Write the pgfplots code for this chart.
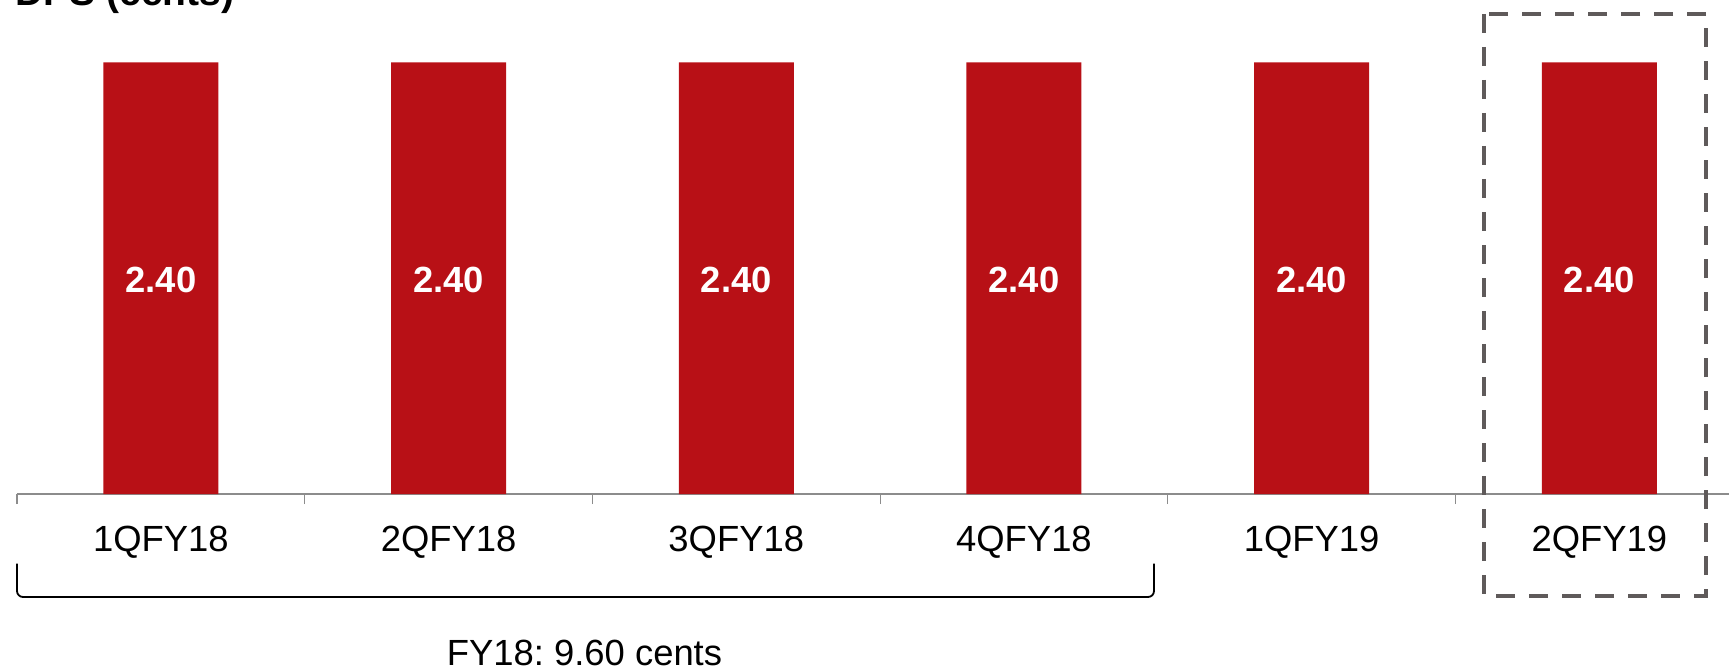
\documentclass[border=0pt]{standalone}
\usepackage{pgfplots}
\pgfplotsset{compat=1.18}
\usepackage{fontspec}
\setmainfont{Liberation Sans}
\frenchspacing
\definecolor{barred}{RGB}{184,16,22}
\definecolor{boxgray}{RGB}{95,90,90}
\definecolor{axgray}{RGB}{140,140,140}
\begin{document}
\begin{tikzpicture}
\begin{axis}[
  scale only axis,
  width=863.1pt, height=215.75pt,
  xmin=-0.5, xmax=5.5, ymin=0, ymax=2.4,
  clip=false,
  axis x line*=bottom,
  axis y line=none,
  x axis line style={axgray, line width=0.7pt},
  xtick={0,1,2,3,4,5},
  xticklabels={1QFY18,2QFY18,3QFY18,4QFY18,1QFY19,2QFY19},
  minor xtick={-0.5,0.5,1.5,2.5,3.5,4.5,5.5},
  major tick length=0pt,
  minor tick length=5pt,
  tick align=outside,
  xtick pos=bottom,
  minor tick style={axgray, line width=0.6pt},
  xticklabel style={font=\fontsize{18.2}{21}\selectfont, anchor=base, inner sep=0pt, yshift=-28.5pt},
  ybar, bar width=57.5pt,
  nodes near coords={\pgfmathprintnumber[fixed,fixed zerofill,precision=2,assume math mode=true]{\pgfplotspointmeta}},
  every node near coord/.style={anchor=center, yshift=-108.5pt, text=white, font=\fontsize{18.2}{21}\selectfont\bfseries},
]
\addplot[fill=barred, draw=none] coordinates {(0,2.40) (1,2.40) (2,2.40) (3,2.40) (4,2.40) (5,2.40)};
\end{axis}
% title
\node[anchor=base west, inner sep=0pt, font=\fontsize{19.5}{22}\selectfont\bfseries] at (-1pt,244pt) {DPS (cents)};
% dashed highlight box
\draw[boxgray, line width=1.75pt, dash pattern=on 9.5pt off 7pt] (733.5pt,240pt) rectangle (844.5pt,-51pt);
% bracket
\draw[black, line width=0.9pt, rounded corners=3pt] (0pt,-34.75pt) -- (0pt,-51.5pt) -- (568.5pt,-51.5pt) -- (568.5pt,-34.75pt);
\node[anchor=base, inner sep=0pt, font=\fontsize{18.2}{21}\selectfont] at (283.75pt,-85.5pt) {FY18: 9.60 cents};
\pgfresetboundingbox
\useasboundingbox (-8.5pt,-88pt) rectangle (856pt,247pt);
\end{tikzpicture}
\end{document}
